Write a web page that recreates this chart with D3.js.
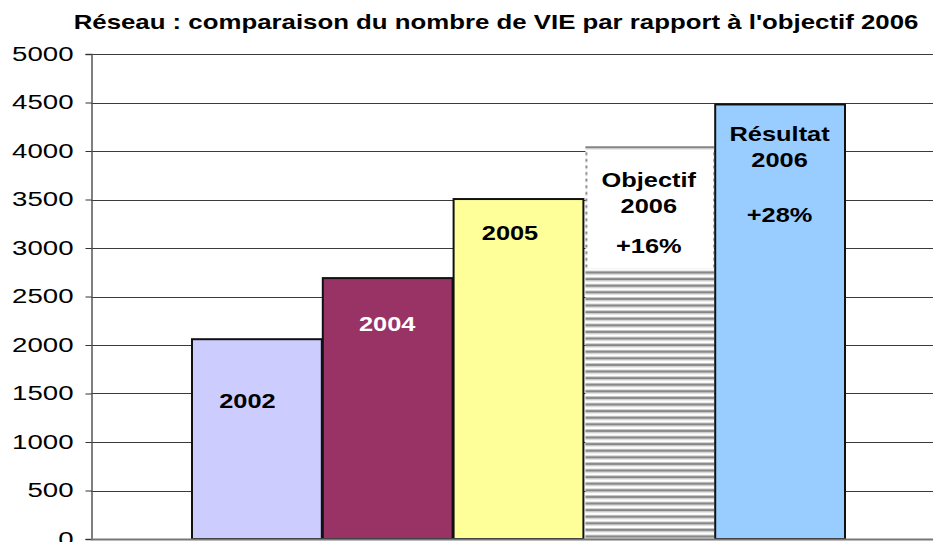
<!DOCTYPE html>
<html>
<head>
<meta charset="utf-8">
<script src="https://cdn.jsdelivr.net/npm/d3@7"></script>
<style>
  body { margin: 0; background: #fff; }
  text { font-family: "Liberation Sans", Arial, sans-serif; }
</style>
</head>
<body>
<div id="chart"></div>
<script>
const categories = ["2002", "2004", "2005", "Objectif 2006", "Résultat 2006"];
const values = [2070, 2700, 3515, 4050, 4490];
const barColors = ["#ccccff", "#993366", "#ffff99", "pattern", "#99ccff"];
const barLabels = [["2002"], ["2004"], ["2005"], ["Objectif", "2006", "", "+16%"], ["Résultat", "2006", "", "+28%"]];
const labelColors = ["#000", "#fff", "#000", "#000", "#000"];
const yTicks = [0, 500, 1000, 1500, 2000, 2500, 3000, 3500, 4000, 4500, 5000];
const title = "Réseau : comparaison du nombre de VIE par rapport à l'objectif 2006";

const width = 933, height = 542;
const stretch = 1.38; // the source picture is widened horizontally

const svg = d3.select("#chart").append("svg")
    .attr("width", width)
    .attr("height", height);

const defs = svg.append("defs");
const pat = defs.append("pattern")
    .attr("id", "stripes")
    .attr("patternUnits", "userSpaceOnUse")
    .attr("width", 8)
    .attr("height", 6.6);
pat.append("rect").attr("width", 8).attr("height", 6.6).attr("fill", "#ffffff");
pat.append("rect").attr("y", 0).attr("width", 8).attr("height", 1).attr("fill", "#c8c8c8");
pat.append("rect").attr("y", 1).attr("width", 8).attr("height", 2.2).attr("fill", "#858585");
pat.append("rect").attr("y", 3.2).attr("width", 8).attr("height", 1).attr("fill", "#c8c8c8");

const y = d3.scaleLinear().domain([0, 5000]).range([539, 54]);
const x = d3.scaleBand().domain(categories).range([191, 845]).paddingInner(0);
const axisX = 91;

// grid lines
svg.append("g").selectAll("line")
    .data(yTicks.filter(d => d > 0))
    .join("line")
    .attr("x1", axisX).attr("x2", width)
    .attr("y1", d => Math.round(y(d)) + 0.5)
    .attr("y2", d => Math.round(y(d)) + 0.5)
    .attr("stroke", "#3a3a3a")
    .attr("stroke-width", 1);

// y axis
const yAxis = svg.append("g")
    .attr("transform", `translate(${axisX + 0.5},0)`)
    .call(d3.axisLeft(y).tickValues(yTicks).tickFormat(d3.format("d")).tickSize(6).tickPadding(12));
yAxis.select(".domain").attr("stroke", "#555").attr("stroke-width", 1.5);
yAxis.selectAll(".tick line").attr("stroke", "#333");
yAxis.selectAll(".tick text")
    .attr("font-size", 20)
    .attr("fill", "#000")
    .attr("font-family", "Liberation Sans, Arial, sans-serif")
    .attr("transform", function() {
        const xx = +d3.select(this).attr("x");
        return `translate(${xx},0) scale(${stretch},1) translate(${-xx},0)`;
    });

// bars
const bars = svg.append("g");
categories.forEach((c, i) => {
    const x0 = x(c), w = x.bandwidth();
    const top = y(values[i]), bottom = y(0);
    if (barColors[i] === "pattern") {
        bars.append("rect")
            .attr("x", x0 + 2).attr("y", top)
            .attr("width", w - 2).attr("height", bottom - top)
            .attr("fill", "url(#stripes)");
        bars.append("rect")
            .attr("x", x0 + 4).attr("y", top + 5)
            .attr("width", w - 5).attr("height", y(2790) - top - 5)
            .attr("fill", "#fff");
    } else {
        bars.append("rect")
            .attr("x", x0 + 1).attr("y", top + 1)
            .attr("width", w - 1).attr("height", bottom - top - 1)
            .attr("fill", barColors[i])
            .attr("stroke", "#111")
            .attr("stroke-width", 2);
    }
});

// x baseline
svg.append("line")
    .attr("x1", axisX).attr("x2", width)
    .attr("y1", y(0) + 0.5).attr("y2", y(0) + 0.5)
    .attr("stroke", "#777").attr("stroke-width", 2);

// bar labels
const labelTop = [392, 315, 224, 171, 125];
const blankGap = [14, 14, 14, 14, 29];
categories.forEach((c, i) => {
    const cx = x(c) + x.bandwidth() / 2 - (i === 0 ? 9 : i === 2 ? 8 : 0);
    const g = svg.append("g")
        .attr("transform", `translate(${cx},${labelTop[i]}) scale(${stretch * 0.92},1)`);
    let dy = 0;
    barLabels[i].forEach(line => {
        if (line !== "") {
            g.append("text")
                .attr("y", dy + 16)
                .attr("text-anchor", "middle")
                .attr("font-size", 20)
                .attr("font-weight", "bold")
                .attr("fill", labelColors[i])
                .text(line);
        }
        dy += line === "" ? blankGap[i] : 26;
    });
});

// title
svg.append("text")
    .attr("transform", `translate(496,29) scale(1.29,1)`)
    .attr("text-anchor", "middle")
    .attr("font-size", 20)
    .attr("font-weight", "bold")
    .text(title);
</script>
</body>
</html>
